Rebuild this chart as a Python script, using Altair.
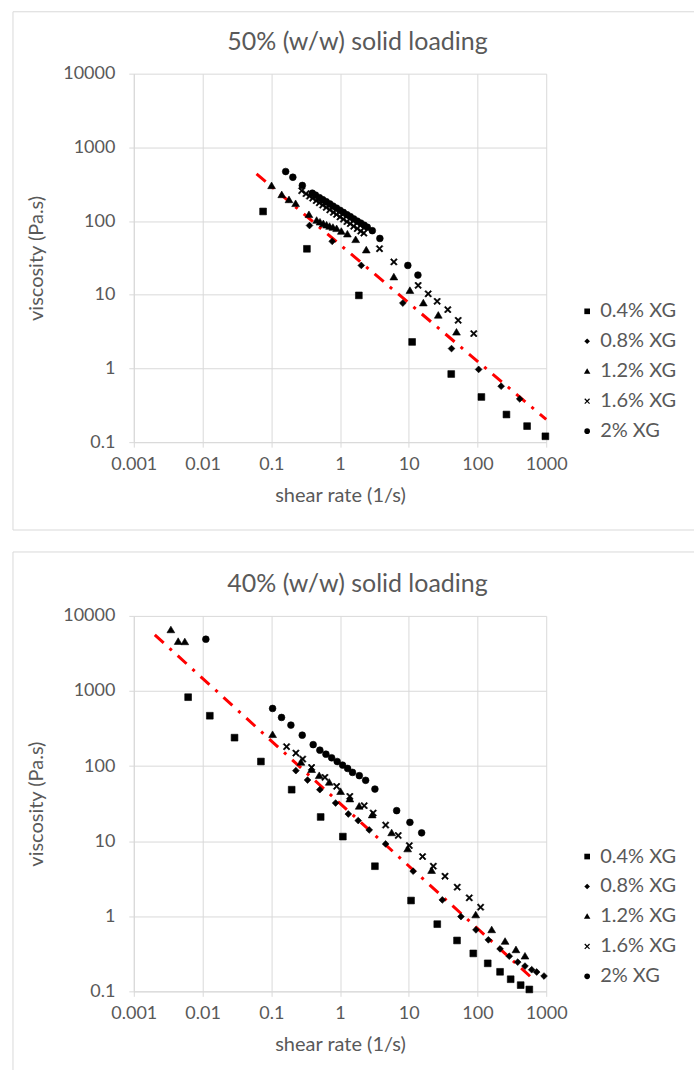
import altair as alt
import pandas as pd

SERIES = ["0.4% XG", "0.8% XG", "1.2% XG", "1.6% XG", "2% XG"]
X_PATH = ("M-1,-0.7L-0.7,-1L0,-0.3L0.7,-1L1,-0.7L0.3,0L1,0.7L0.7,1L0,0.3"
          "L-0.7,1L-1,0.7L-0.3,0Z")
TRI_PATH = "M0,-1.1L1.15,0.85L-1.15,0.85Z"
SHAPES = ["square", "diamond", TRI_PATH, X_PATH, "circle"]
X_TICKS = [0.001, 0.01, 0.1, 1, 10, 100, 1000]
Y_TICKS = [0.1, 1, 10, 100, 1000, 10000]

# ---------- 50% (w/w) solid loading ----------
x04_t = [0.076, 0.33, 1.88, 11.2, 41.5, 114, 264, 527, 973]
y04_t = [135, 42, 9.8, 2.29, 0.84, 0.41, 0.237, 0.165, 0.12]
x08_t = [0.36, 0.77, 2.04, 8.2, 41.9, 104, 221, 412]
y08_t = [87, 53, 25, 7.7, 1.86, 0.97, 0.574, 0.386]
x12_t = [0.101, 0.142, 0.181, 0.226, 0.353, 0.457, 0.511, 0.572, 0.638, 0.706, 0.789,
         0.893, 1.045, 1.28, 1.69, 2.41, 6.07, 10.4, 16.3, 26.9, 49.5]
y12_t = [301, 227, 194, 172, 122, 102, 96.7, 91.9, 88, 84.5, 81.9,
         78.7, 72.3, 66.5, 55.8, 40.4, 17.4, 11.4, 7.72, 5.26, 3.1]
x16_t = [0.277, 0.32, 0.36, 0.40, 0.45, 0.50, 0.56, 0.63, 0.71, 0.80, 0.89, 1.0, 1.12, 1.26,
         1.41, 1.58, 1.78, 2.0, 2.22, 3.76, 6.07, 13.7, 19.2, 25.9, 37, 52.4, 88.3]
y16_t = [258, 235, 218, 204, 189, 177, 165, 153, 142, 131, 123, 114, 106, 98,
         92, 85, 79, 73, 68.6, 42.1, 27.9, 13.4, 10.3, 8.14, 6.28, 4.5, 2.97]
x20_t = [0.162, 0.206, 0.283, 0.395, 0.44, 0.50, 0.56, 0.63, 0.71, 0.79, 0.89, 1.0, 1.12,
         1.26, 1.41, 1.58, 1.78, 2.0, 2.24, 2.49, 2.95, 3.80, 9.7, 13.6]
y20_t = [470, 393, 304, 239, 225, 208, 195, 183, 171, 160, 150, 140, 131,
         122, 115, 107, 100, 94, 88, 82.6, 74, 58.1, 25, 18.5]
trend_x_t = [0.061, 1000]
trend_y_t = [437, 0.203]

# ---------- 40% (w/w) solid loading ----------
x04_b = [0.00617, 0.01276, 0.0292, 0.0707, 0.198, 0.523, 1.10, 3.22, 10.8, 26, 50.4,
         86.9, 141, 213, 304, 425, 568]
y04_b = [827, 468, 239, 115, 48.5, 21, 11.5, 4.64, 1.62, 0.785, 0.476,
         0.32, 0.236, 0.182, 0.145, 0.121, 0.106]
x08_b = [0.228, 0.337, 0.509, 0.863, 1.32, 1.84, 2.66, 4.61, 11.6, 30.8, 57.5, 95, 144,
         213, 290, 385, 491, 615, 727, 929]
y08_b = [86.9, 65.2, 48.5, 32.2, 23, 18.8, 14.1, 9.18, 3.98, 1.65, 0.99, 0.659, 0.485,
         0.368, 0.294, 0.245, 0.217, 0.194, 0.181, 0.160]
x12_b = [0.00346, 0.00442, 0.00552, 0.1045, 0.27, 0.386, 0.498, 0.697, 1.02, 1.39, 1.90,
         2.94, 5.64, 9.64, 21.5, 94.2, 161, 252, 363, 491]
y12_b = [6510, 4550, 4510, 262, 112, 89.6, 74.5, 60.7, 45.7, 36.4, 29.1,
         22.3, 12.9, 7.87, 4.06, 1.04, 0.659, 0.462, 0.357, 0.294]
x16_b = [0.167, 0.228, 0.286, 0.386, 0.603, 0.893, 1.39, 2.25, 3.04, 4.61, 7.03, 10.2,
         15.9, 22.8, 33.7, 50.8, 76, 111]
y16_b = [181, 149, 124, 96, 70.8, 53.7, 39.5, 29.7, 23.7, 16.4, 11.9, 8.74,
         6.24, 4.64, 3.41, 2.44, 1.76, 1.32]
x20_b = [0.01117, 0.1045, 0.141, 0.193, 0.282, 0.407, 0.509, 0.624, 0.755, 0.910, 1.09,
         1.29, 1.52, 1.91, 2.36, 3.22, 6.67, 10.4, 15.4]
y20_b = [4890, 585, 444, 351, 258, 193, 163, 144, 129, 115, 103,
         93, 82.4, 74.5, 64.6, 49.4, 25.5, 17.8, 12.9]
trend_x_b = [0.00202, 700]
trend_y_b = [5590, 0.136]

FONT = "Lato"
GRID = "#d9d9d9"
TEXT = "#595959"
RED = "#ff0000"


def panel_df(xs_list, ys_list):
    rows = []
    for name, xs, ys in zip(SERIES, xs_list, ys_list):
        for xv, yv in zip(xs, ys):
            rows.append({"x": xv, "y": yv, "series": name})
    return pd.DataFrame(rows)


def make_panel(title, xs_list, ys_list, tx, ty, height, box, legend_xy, show_bottom):
    df = panel_df(xs_list, ys_list)
    tdf = pd.DataFrame({"x": tx, "y": ty})
    one = pd.DataFrame({"t": [title]})

    xscale = alt.Scale(type="log", domain=[0.001, 1000])
    yscale = alt.Scale(type="log", domain=[0.1, 10000])
    xaxis = alt.Axis(values=X_TICKS, format="~g", title="shear rate (1/s)",
                     labelPadding=8, titlePadding=12, labelOverlap=False, labelFlush=False)
    yaxis = alt.Axis(values=Y_TICKS, format="~g", title="viscosity (Pa.s)",
                     labelPadding=14, titlePadding=16, labelOverlap=False, labelFlush=False)

    left, right, top, bottom = box
    layers = [
        alt.Chart(one).mark_rule(color=GRID, strokeWidth=1).encode(
            x=alt.value(left), x2=alt.value(right), y=alt.value(top)),
        alt.Chart(one).mark_rule(color=GRID, strokeWidth=1).encode(
            x=alt.value(left), y=alt.value(top), y2=alt.value(bottom)),
    ]
    if show_bottom:
        layers.append(alt.Chart(one).mark_rule(color=GRID, strokeWidth=1).encode(
            x=alt.value(left), x2=alt.value(right), y=alt.value(bottom)))

    trend = alt.Chart(tdf).mark_line(color=RED, strokeWidth=3, strokeDash=[12, 8, 3, 8]).encode(
        x=alt.X("x:Q", scale=xscale, axis=xaxis),
        y=alt.Y("y:Q", scale=yscale, axis=yaxis),
    )
    points = alt.Chart(df).mark_point(filled=True, color="black", fill="black", stroke="black",
                                      strokeWidth=0.6, size=46, opacity=1).encode(
        x=alt.X("x:Q", scale=xscale, axis=xaxis),
        y=alt.Y("y:Q", scale=yscale, axis=yaxis),
        shape=alt.Shape("series:N", scale=alt.Scale(domain=SERIES, range=SHAPES),
                        legend=alt.Legend(title=None, orient="none",
                                          legendX=legend_xy[0], legendY=legend_xy[1],
                                          labelFont=FONT, labelFontSize=20, labelColor=TEXT,
                                          symbolSize=32, symbolFillColor="black",
                                          symbolStrokeColor="black", symbolStrokeWidth=0.5,
                                          rowPadding=10, labelOffset=3, padding=0)),
    )
    ttl = alt.Chart(one).mark_text(font=FONT, fontSize=25, color=TEXT, align="center",
                                   baseline="middle").encode(
        x=alt.value(224), y=alt.value(-32), text="t:N")

    layers += [trend, points, ttl]
    return alt.layer(*layers).properties(width=413, height=height)


top_chart = make_panel("50% (w/w) solid loading",
                       [x04_t, x08_t, x12_t, x16_t, x20_t],
                       [y04_t, y08_t, y12_t, y16_t, y20_t],
                       trend_x_t, trend_y_t, 369,
                       (-121, 561, -62, 457), (444, 228), True)
bottom_chart = make_panel("40% (w/w) solid loading",
                          [x04_b, x08_b, x12_b, x16_b, x20_b],
                          [y04_b, y08_b, y12_b, y16_b, y20_b],
                          trend_x_b, trend_y_b, 376,
                          (-121, 561, -64, 456), (444, 231), False)

chart = alt.vconcat(top_chart, bottom_chart, spacing=20).resolve_scale(
    x="independent", y="independent", shape="independent"
).resolve_legend(shape="independent").properties(
    padding={"left": 12, "top": 10, "right": 0, "bottom": 0}
).configure_view(strokeWidth=0).configure_axis(
    grid=True, gridColor=GRID, gridWidth=1, domainColor=GRID, tickColor=GRID, tickSize=5,
    labelFont=FONT, labelFontSize=18, labelColor=TEXT,
    titleFont=FONT, titleFontSize=20, titleColor=TEXT, titleFontWeight="normal",
)

chart.save("out.html", embed_options={"renderer": "svg", "actions": False})
